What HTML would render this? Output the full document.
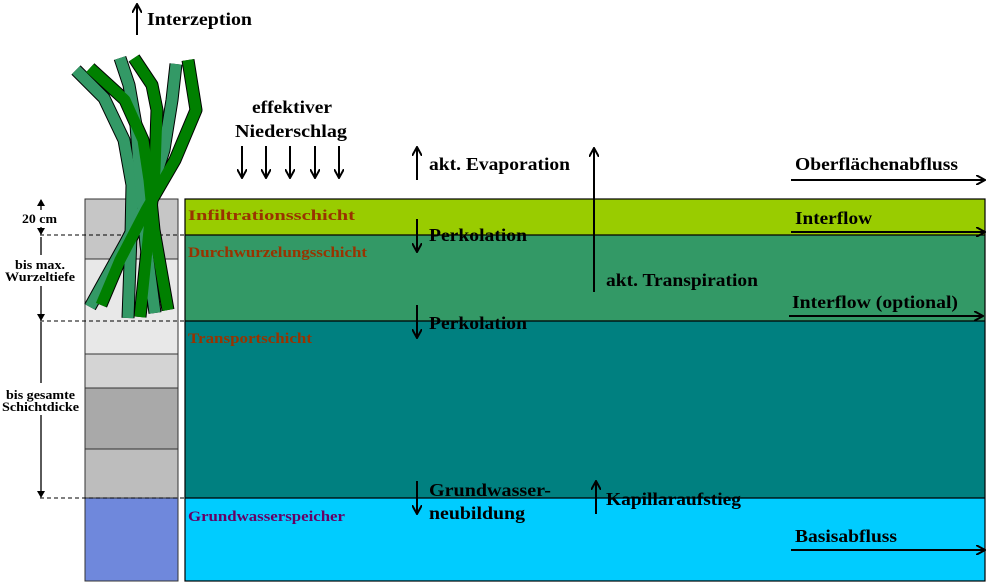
<!DOCTYPE html>
<html><head><meta charset="utf-8"><style>
html,body{margin:0;padding:0;background:#fff;}
svg{display:block;}
text{font-family:"Liberation Serif",serif;font-weight:bold;}
</style></head><body>
<svg width="1000" height="584" viewBox="0 0 1000 584" xmlns="http://www.w3.org/2000/svg">
<defs>
<marker id="ah" markerWidth="10" markerHeight="10" refX="8" refY="5" orient="auto" markerUnits="userSpaceOnUse">
<path d="M0,0 L9,5 L0,10" fill="none" stroke="#000" stroke-width="2"/>
</marker>
</defs>
<rect x="185" y="199" width="800" height="36" fill="#99cc00"/>
<rect x="185" y="235" width="800" height="86" fill="#339966"/>
<rect x="185" y="321" width="800" height="177" fill="#008080"/>
<rect x="185" y="498" width="800" height="83" fill="#00ccff"/>
<g stroke="#000" stroke-width="1.2" fill="none">
<rect x="185" y="199" width="800" height="382"/>
<line x1="185" y1="235" x2="985" y2="235"/>
<line x1="185" y1="321" x2="985" y2="321"/>
<line x1="185" y1="498" x2="985" y2="498"/>
</g>
<rect x="85" y="199" width="93" height="60" fill="#c6c6c6"/>
<rect x="85" y="259" width="93" height="95" fill="#e8e8e8"/>
<rect x="85" y="354" width="93" height="34" fill="#d4d4d4"/>
<rect x="85" y="388" width="93" height="61" fill="#a9a9a9"/>
<rect x="85" y="449" width="93" height="49" fill="#bdbdbd"/>
<rect x="85" y="498" width="93" height="83" fill="#6f88dc"/>
<g stroke="#333" stroke-width="1" fill="none">
<rect x="85" y="199" width="93" height="382"/>
<line x1="85" y1="259" x2="178" y2="259"/>
<line x1="85" y1="354" x2="178" y2="354"/>
<line x1="85" y1="388" x2="178" y2="388"/>
<line x1="85" y1="449" x2="178" y2="449"/>
<line x1="85" y1="498" x2="178" y2="498"/>
</g>
<g stroke="#000" stroke-width="1" stroke-dasharray="4,3">
<line x1="40" y1="235" x2="185" y2="235"/>
<line x1="40" y1="321" x2="185" y2="321"/>
<line x1="40" y1="498" x2="185" y2="498"/>
</g>
<g stroke="#000" stroke-width="1.3">
<line x1="41" y1="200" x2="41" y2="210"/>
<line x1="41" y1="227" x2="41" y2="234"/>
<line x1="41" y1="237" x2="41" y2="255"/>
<line x1="41" y1="286" x2="41" y2="320"/>
<line x1="41" y1="322" x2="41" y2="383"/>
<line x1="41" y1="415" x2="41" y2="496"/>
</g>
<g fill="#000">
<path d="M37,206 L41,199 L45,206Z"/>
<path d="M37,228 L41,235 L45,228Z"/>
<path d="M37,314 L41,321 L45,314Z"/>
<path d="M37,491 L41,498 L45,491Z"/>
</g>
<g font-size="13">
<text x="22" y="223" textLength="35" lengthAdjust="spacingAndGlyphs">20 cm</text>
<text x="15" y="269" textLength="50" lengthAdjust="spacingAndGlyphs">bis max.</text>
<text x="5" y="281" textLength="70" lengthAdjust="spacingAndGlyphs">Wurzeltiefe</text>
<text x="6" y="399" textLength="69" lengthAdjust="spacingAndGlyphs">bis gesamte</text>
<text x="2" y="411" textLength="77" lengthAdjust="spacingAndGlyphs">Schichtdicke</text>
</g>
<g stroke-linejoin="round" stroke-linecap="butt" fill="none">
<g stroke="#000" stroke-width="13">
<polyline points="76,70 104,98 124,140 132,185 131,235 128,318"/>
<polyline points="120,58 129,85 136,125 140,180 146,245 155,313"/>
<polyline points="176,64 172,100 164,150 148,200 126,242 90,307"/>
<polyline points="90,68 125,100 143,140 149,180 154,230 168,310"/>
<polyline points="134,58 152,85 157,110 155,170 147,250 140,317"/>
<polyline points="188,60 196,110 175,160 146,210 120,260 101,305"/>
</g>
<g stroke="#339966" stroke-width="11">
<polyline points="76,70 104,98 124,140 132,185 131,235 128,318"/>
<polyline points="120,58 129,85 136,125 140,180 146,245 155,313"/>
<polyline points="176,64 172,100 164,150 148,200 126,242 90,307"/>
</g>
<g stroke="#008000" stroke-width="11">
<polyline points="90,68 125,100 143,140 149,180 154,230 168,310"/>
<polyline points="134,58 152,85 157,110 155,170 147,250 140,317"/>
<polyline points="188,60 196,110 175,160 146,210 120,260 101,305"/>
</g>
</g>
<g font-size="15" fill="#993300">
<text x="188" y="220" textLength="167" lengthAdjust="spacingAndGlyphs">Infiltrationsschicht</text>
<text x="188" y="257" textLength="179" lengthAdjust="spacingAndGlyphs">Durchwurzelungsschicht</text>
<text x="188" y="343" textLength="124" lengthAdjust="spacingAndGlyphs">Transportschicht</text>
</g>
<text x="188" y="521" font-size="15" fill="#660066" textLength="157" lengthAdjust="spacingAndGlyphs">Grundwasserspeicher</text>
<g stroke="#000" stroke-width="2">
<line x1="137" y1="35" x2="137" y2="5" marker-end="url(#ah)"/>
<line x1="417" y1="180" x2="417" y2="148" marker-end="url(#ah)"/>
<line x1="594" y1="292" x2="594" y2="149" marker-end="url(#ah)"/>
<line x1="242" y1="146" x2="242" y2="177" marker-end="url(#ah)"/>
<line x1="266" y1="146" x2="266" y2="177" marker-end="url(#ah)"/>
<line x1="290" y1="146" x2="290" y2="177" marker-end="url(#ah)"/>
<line x1="315" y1="146" x2="315" y2="177" marker-end="url(#ah)"/>
<line x1="339" y1="146" x2="339" y2="177" marker-end="url(#ah)"/>
<line x1="417" y1="219" x2="417" y2="251" marker-end="url(#ah)"/>
<line x1="417" y1="305" x2="417" y2="337" marker-end="url(#ah)"/>
<line x1="417" y1="481" x2="417" y2="513" marker-end="url(#ah)"/>
<line x1="596" y1="514" x2="596" y2="482" marker-end="url(#ah)"/>
<line x1="791" y1="180" x2="984" y2="180" marker-end="url(#ah)"/>
<line x1="791" y1="232" x2="984" y2="232" marker-end="url(#ah)"/>
<line x1="789" y1="316" x2="982" y2="316" marker-end="url(#ah)"/>
<line x1="791" y1="550" x2="984" y2="550" marker-end="url(#ah)"/>
</g>
<g font-size="18" fill="#000">
<text x="147" y="25" textLength="105" lengthAdjust="spacingAndGlyphs">Interzeption</text>
<text x="252" y="113" textLength="80" lengthAdjust="spacingAndGlyphs">effektiver</text>
<text x="235" y="137" textLength="112" lengthAdjust="spacingAndGlyphs">Niederschlag</text>
<text x="429" y="170" textLength="141" lengthAdjust="spacingAndGlyphs">akt. Evaporation</text>
<text x="606" y="286" textLength="152" lengthAdjust="spacingAndGlyphs">akt. Transpiration</text>
<text x="795" y="170" textLength="163" lengthAdjust="spacingAndGlyphs">Oberflächenabfluss</text>
<text x="795" y="224" textLength="77" lengthAdjust="spacingAndGlyphs">Interflow</text>
<text x="792" y="308" textLength="166" lengthAdjust="spacingAndGlyphs">Interflow (optional)</text>
<text x="429" y="241" textLength="98" lengthAdjust="spacingAndGlyphs">Perkolation</text>
<text x="429" y="329" textLength="98" lengthAdjust="spacingAndGlyphs">Perkolation</text>
<text x="429" y="496" textLength="122" lengthAdjust="spacingAndGlyphs">Grundwasser-</text>
<text x="429" y="519" textLength="96" lengthAdjust="spacingAndGlyphs">neubildung</text>
<text x="606" y="505" textLength="135" lengthAdjust="spacingAndGlyphs">Kapillaraufstieg</text>
<text x="795" y="542" textLength="102" lengthAdjust="spacingAndGlyphs">Basisabfluss</text>
</g>
</svg>
</body></html>
